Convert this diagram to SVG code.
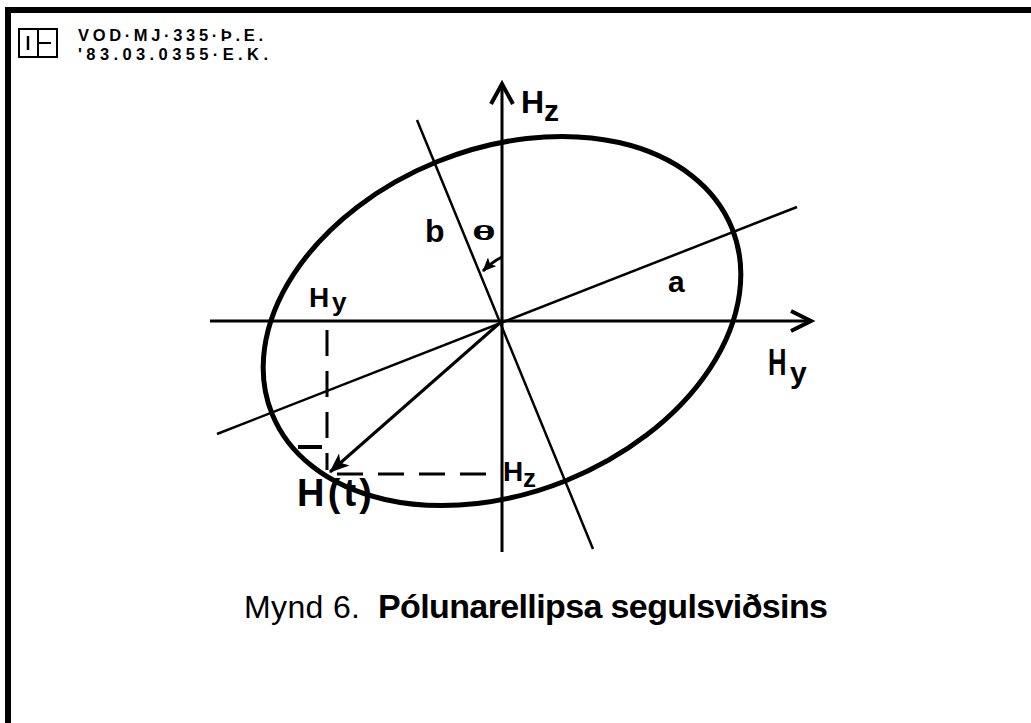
<svg xmlns="http://www.w3.org/2000/svg" width="1031" height="723" viewBox="0 0 1031 723">
<style>
.ax{stroke:#000;stroke-width:3;fill:none}
.ln{stroke:#000;stroke-width:2.5;fill:none}
.ds{stroke:#000;stroke-width:3;fill:none;stroke-dasharray:26 15}
.lb{font-family:"Liberation Sans",Arial,sans-serif;font-weight:bold;fill:#000}
.hd{font-family:"Liberation Sans",Arial,sans-serif;fill:#000}
</style>
<defs>
<marker id="ah" viewBox="0 0 20 16" refX="19" refY="8" markerWidth="20" markerHeight="16" markerUnits="userSpaceOnUse" orient="auto">
<path d="M0,0 L20,8 L0,16 L5,8 Z" fill="#000"/>
</marker>
<marker id="sa" viewBox="0 0 14 12" refX="13" refY="6" markerWidth="14" markerHeight="12" markerUnits="userSpaceOnUse" orient="auto">
<path d="M0,0 L14,6 L0,12 L3,6 Z" fill="#000"/>
</marker>
</defs>
<rect width="1031" height="723" fill="#fff"/>
<g id="frame">
<path d="M8,723 V10 H1031" stroke="#000" stroke-width="6" fill="none"/>
</g>
<g id="header">
<rect x="19" y="29" width="38" height="28" fill="none" stroke="#000" stroke-width="2"/>
<line x1="38" y1="29" x2="38" y2="57" stroke="#000" stroke-width="2"/>
<line x1="28" y1="36" x2="28" y2="50" stroke="#000" stroke-width="2.5"/>
<line x1="38" y1="43" x2="51" y2="43" stroke="#000" stroke-width="2"/>
<text class="hd" x="78" y="41" font-size="16.5" font-weight="bold" textLength="185" lengthAdjust="spacing">VOD·MJ·335·Þ.E.</text>
<text class="hd" x="78" y="59.5" font-size="16.5" font-weight="bold" textLength="190" lengthAdjust="spacing">'83.03.0355·E.K.</text>
</g>
<g id="ellipse">
<ellipse cx="502" cy="321" rx="248" ry="172" transform="rotate(-22 502 321)" fill="none" stroke="#000" stroke-width="5"/>
</g>
<g id="connectors">
<line class="ax" x1="502" y1="552" x2="502" y2="85"/>
<polyline points="491,104 502,84 513,104" stroke="#000" stroke-width="4" fill="none"/>
<line class="ax" x1="210" y1="321" x2="811" y2="321"/>
<polyline points="791,311 811,321 791,331" stroke="#000" stroke-width="4" fill="none"/>
<line class="ln" x1="217" y1="434" x2="797" y2="207"/>
<line class="ln" x1="417" y1="120" x2="593" y2="549"/>
<line class="ax" x1="502" y1="321" x2="330" y2="472" marker-end="url(#ah)"/>
<line class="ds" x1="327" y1="330" x2="327" y2="470"/>
<line class="ds" x1="337" y1="474" x2="497" y2="474"/>
<path d="M502,257 Q492,262 483,271" stroke="#000" stroke-width="3" fill="none" marker-end="url(#sa)"/>
</g>
<g id="labels">
<text class="lb" x="521" y="113" font-size="32">H</text>
<text class="lb" x="544" y="121" font-size="30">z</text>
<text class="lb" x="425" y="242" font-size="32">b</text>
<text class="lb" transform="translate(484,240) scale(1.7,0.8)" text-anchor="middle" font-size="26">θ</text>
<text class="lb" x="668" y="292" font-size="30">a</text>
<text class="lb" x="309" y="307" font-size="28">H</text>
<text class="lb" x="332" y="311" font-size="26">y</text>
<text class="lb" transform="translate(768,375) scale(0.8,1.15)" font-size="32">H</text>
<text class="lb" x="790" y="383" font-size="30">y</text>
<text class="lb" x="503" y="481" font-size="28">H</text>
<text class="lb" x="523" y="487" font-size="26">z</text>
<line x1="298" y1="447" x2="322" y2="447" stroke="#000" stroke-width="4"/>
<text class="lb" x="297" y="506" font-size="38" textLength="75" lengthAdjust="spacing">H(t)</text>
</g>
<g id="caption">
<text class="hd" x="244" y="618" font-size="32" textLength="116" lengthAdjust="spacing">Mynd 6.</text>
<text class="lb" x="378" y="618" font-size="34" textLength="450" lengthAdjust="spacing">Pólunarellipsa segulsviðsins</text>
</g>
</svg>
